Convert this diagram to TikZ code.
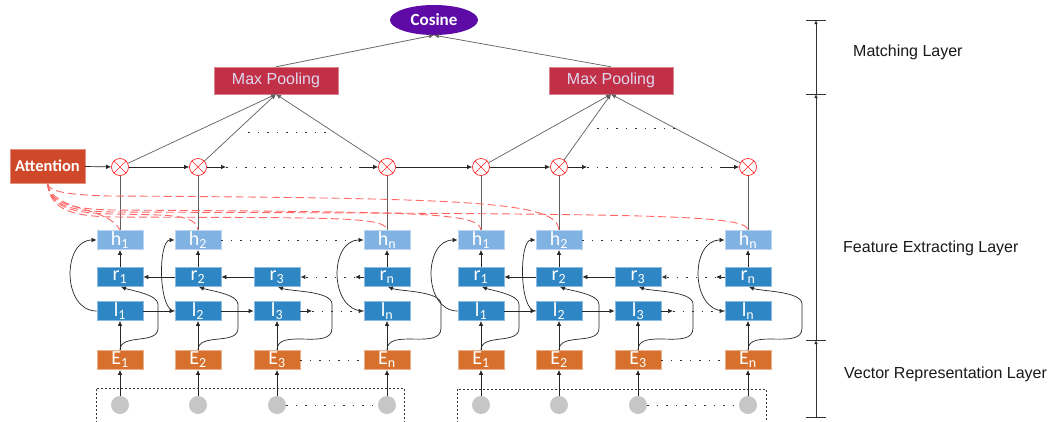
\documentclass[tikz,border=0pt]{standalone}
\usepackage{fontspec}
\setmainfont{Liberation Sans}
\newfontfamily\cali{Carlito}
\usetikzlibrary{arrows.meta,calc,shapes.geometric}
\definecolor{hblue}{RGB}{128,178,226}
\definecolor{rblue}{RGB}{46,134,196}
\definecolor{eorange}{RGB}{214,112,44}
\definecolor{attred}{RGB}{208,72,42}
\definecolor{mpred}{RGB}{194,48,72}
\definecolor{mptext}{RGB}{222,216,238}
\definecolor{cospurple}{RGB}{94,10,166}
\definecolor{incircle}{RGB}{198,198,198}
\definecolor{linegray}{RGB}{95,95,95}
\tikzset{
  box/.style={rectangle, minimum width=46pt, minimum height=19pt, inner sep=0pt, text=white, line width=0.8pt, font=\cali\fontsize{20}{20}\selectfont},
  hbox/.style={box, fill=hblue, draw=hblue!55!white},
  rbox/.style={box, fill=rblue, draw=rblue!55!white},
  ebox/.style={box, fill=eorange, draw=eorange!55!white},
  xnode/.style={circle, draw=red!85, fill=white, minimum size=17pt, inner sep=0pt, line width=0.7pt,
    path picture={\draw[red!85, line width=0.6pt] (path picture bounding box.north west) -- (path picture bounding box.south east) (path picture bounding box.north east) -- (path picture bounding box.south west);}},
  inp/.style={circle, fill=incircle, minimum size=18pt, inner sep=0pt},
  arr/.style={-{Latex[length=5pt,width=4.5pt]}, line width=0.7pt, draw=black!85},
  fan/.style={-{Latex[length=5pt,width=4.5pt]}, line width=0.7pt, draw=linegray},
  gl/.style={line width=0.8pt, draw=linegray},
  dots/.style={line width=0.9pt, draw=black!80, dash pattern=on 1.5pt off 8pt},
  attd/.style={draw=red!60, dash pattern=on 8pt off 4pt, line width=0.9pt},
  mp/.style={rectangle, fill=mpred, draw=mpred!60!white, minimum width=124pt, minimum height=27pt, text=mptext, font=\fontsize{16}{16}\selectfont},
  attbox/.style={rectangle, fill=attred, draw=attred!60!white, minimum width=75pt, minimum height=34pt, text=white, font=\cali\bfseries\fontsize{16.5}{16.5}\selectfont},
  cosn/.style={ellipse, fill=cospurple, minimum width=88pt, minimum height=30pt, inner sep=0pt, text=white, font=\cali\bfseries\fontsize{17}{17}\selectfont},
  lbl/.style={anchor=west, text=black!90, font=\fontsize{16}{16}\selectfont, inner sep=0pt},
  scl/.style={-{Latex[length=4pt,width=3.5pt]}, line width=0.6pt, draw=black!80},
  ibox/.style={line width=0.7pt, draw=black!80, dash pattern=on 2pt off 2pt}
}
\begin{document}
\begin{tikzpicture}[x=1pt,y=1pt]
\useasboundingbox (0,0) rectangle (1053,-421);
\fill[white] (0,0) rectangle (1053,-421);

% input boxes (dashed)
\draw[ibox] (96,-423) -- (96,-388) -- (404,-388) -- (404,-423);
\draw[ibox] (457,-423) -- (457,-389) -- (766,-389) -- (766,-423);

\foreach \s/\o in {a/0,b/361}{
  \foreach \k/\cx in {1/120,2/198,3/277,n/387}{
    \node[rbox] (r\k\s) at (\cx+\o,-277) {r\textsubscript{\k}};
    \node[rbox] (l\k\s) at (\cx+\o,-311) {l\textsubscript{\k}};
    \node[ebox] (E\k\s) at (\cx+\o,-360) {E\textsubscript{\k}};
    \node[inp] (i\k\s) at (\cx+\o,-405) {};
    \draw[arr] (i\k\s) -- (E\k\s);
    \draw[arr] (E\k\s) -- (l\k\s);
  }
  \foreach \k/\cx in {1/120,2/198,n/387}{
    \node[hbox] (h\k\s) at (\cx+\o,-240) {h\textsubscript{\k}};
    \node[xnode] (x\k\s) at (\cx+\o,-167) {};
    \draw[arr] (r\k\s) -- (h\k\s);
    \draw[gl] (h\k\s) -- (x\k\s);
  }
  % forward LSTM row
  \draw[arr] (l1\s) -- (l2\s);
  \draw[arr] (l2\s) -- (l3\s);
  \coordinate (lm\s) at (312+\o,-311);
  \draw[arr] (l3\s) -- (lm\s);
  \draw[arr,dots] (lm\s) -- (ln\s);
  % backward LSTM row
  \draw[arr] (r2\s) -- (r1\s);
  \draw[arr] (r3\s) -- (r2\s);
  \coordinate (rm\s) at (355+\o,-277);
  \draw[arr] (rn\s) -- (rm\s);
  \draw[arr,dots] (rm\s) -- (r3\s);
  % dotted rows
  \draw[dots] (h2\s) -- (hn\s);
  \draw[dots] (E3\s) -- (En\s);
  \draw[dots] (i3\s) -- (in\s);
  % product row
  \draw[arr] (x1\s) -- (x2\s);
  \coordinate (xm\s) at (226+\o,-167);
  \coordinate (xq\s) at (359+\o,-167);
  \draw[arr] (x2\s) -- (xm\s);
  \draw[dots] (xm\s) -- (xq\s);
  \draw[arr] (xq\s) -- (xn\s);
  % l -> h curves
  \draw[arr] (l1\s.west) to[out=180,in=180,looseness=1.25] (h1\s.west);
  \draw[arr] (l2\s.west) to[out=180,in=180,looseness=0.6] (h2\s.west);
  \draw[arr] (ln\s.west) to[out=180,in=180,looseness=1.25] (hn\s.west);
  % E -> r curves
  \foreach \k/\w in {1/38,2/40,3/55,n/54}{
    \draw[arr] (E\k\s.north) to[out=90,in=-90] ($(E\k\s.north)+(\w,22)$) -- ($(E\k\s.north)+(\w,46)$) to[out=90,in=-20,looseness=0.6] ($(r\k\s.south)+(1,0)$);
  }
}

% pooling
\node[mp] (mpa) at (276,-80.5) {Max Pooling};
\node[mp] (mpb) at (611,-80.5) {Max Pooling};
\node[cosn] (cos) at (434,-20) {Cosine};
\foreach \s in {a,b}{
  \foreach \k in {1,2,n}{
    \draw[fan] (x\k\s) -- (mp\s.south);
  }
  \draw[fan] (mp\s.north) -- (cos.south);
}
\draw[dots] (248,-132) -- (327,-132);
\draw[dots] (597,-128) -- (675,-128);

% attention
\node[attbox] (att) at (47.5,-166) {Attention};
\draw[arr] (att) -- (x1a);
\draw[arr] (xna) -- (x1b);

\draw[attd] (att.south) .. controls (52,-212) and (108,-206) .. (h1a.north);
\draw[attd] (att.south) .. controls (51,-208) and (72,-213) .. (112,-214) .. controls (170,-215) and (196,-214) .. (h2a.north);
\draw[attd] (att.south) .. controls (50,-210) and (72,-216) .. (112,-217) .. controls (330,-218) and (386,-216) .. (hna.north);
\draw[attd] (att.south) .. controls (50,-204) and (72,-209) .. (112,-210) .. controls (420,-212) and (479,-212) .. (h1b.north);
\draw[attd] (att.south) .. controls (48,-192) and (70,-195) .. (110,-196) .. controls (480,-198) and (557,-202) .. (h2b.north);
\draw[attd] (att.south) .. controls (49,-206) and (72,-211) .. (112,-212) .. controls (650,-214) and (746,-214) .. (hnb.north);

% layer scale
\coordinate (s0) at (816,-20);
\coordinate (s1) at (816,-94);
\coordinate (s2) at (816,-340);
\coordinate (s3) at (816,-417);
\draw[scl] (s1) -- (s0);
\draw[scl] (s2) -- (s1);
\draw[scl] (s3) -- (s2);
\foreach \yy in {-20,-94,-340,-417}{
  \draw[line width=0.6pt, black!80] (806,\yy) -- (826,\yy);
}
\node[lbl] (t1) at (853,-52) {Matching Layer};
\node[lbl] (t2) at (843,-248) {Feature Extracting Layer};
\node[lbl] (t3) at (844,-374) {Vector Representation Layer};
\end{tikzpicture}
\end{document}
